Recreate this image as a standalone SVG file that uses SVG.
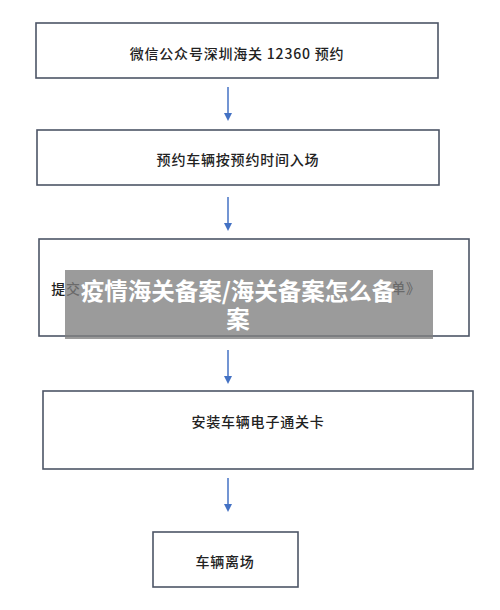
<svg xmlns="http://www.w3.org/2000/svg" width="500" height="610" viewBox="0 0 500 610">
<defs>
<style>
.box{fill:#fff;stroke:#4d5566;stroke-width:1.6}
.t{font-family:"Noto Sans CJK SC","Noto Sans",sans-serif;font-size:14px;font-weight:500;fill:#222;letter-spacing:0.8px;text-anchor:middle;dominant-baseline:central}
.arr{stroke:#4472c4;stroke-width:1.5;fill:none;marker-end:url(#ah)}
.ov{font-family:"Noto Sans CJK SC","Noto Sans",sans-serif;font-size:23.5px;font-weight:bold;fill:#fff;text-anchor:middle;dominant-baseline:central}
</style>
<marker id="ah" markerWidth="8" markerHeight="8" refX="4" refY="4" orient="auto" markerUnits="userSpaceOnUse">
<path d="M0,0 L8,4 L0,8 Z" fill="#4472c4"/>
</marker>
</defs>
<rect width="500" height="610" fill="#fff"/>
<g id="n1"><rect class="box" x="36" y="23" width="402" height="55"/><text class="t" x="237" y="53">微信公众号深圳海关 12360 预约</text></g>
<g id="n2"><rect class="box" x="37" y="130" width="402" height="55"/><text class="t" x="238" y="159">预约车辆按预约时间入场</text></g>
<g id="n3"><rect class="box" x="39" y="239" width="430" height="97"/><text class="t" x="66" y="288">提交</text><text class="t" x="406" y="287">单》</text></g>
<g id="n4"><rect class="box" x="43" y="391" width="430" height="78"/><text class="t" x="258" y="421">安装车辆电子通关卡</text></g>
<g id="n5"><rect class="box" x="153" y="532" width="145" height="55"/><text class="t" x="225" y="561">车辆离场</text></g>
<g id="connectors">
<line class="arr" x1="228" y1="87" x2="228" y2="117"/>
<line class="arr" x1="228" y1="197" x2="228" y2="227"/>
<line class="arr" x1="228" y1="350" x2="228" y2="380"/>
<line class="arr" x1="228" y1="478" x2="228" y2="508"/>
</g>
<g id="overlay">
<rect x="65" y="270" width="368" height="69" fill="#7f7f7f" fill-opacity="0.78"/>
<text class="ov" x="238" y="290">疫情海关备案/海关备案怎么备</text>
<text class="ov" x="238" y="318">案</text>
</g>
</svg>
